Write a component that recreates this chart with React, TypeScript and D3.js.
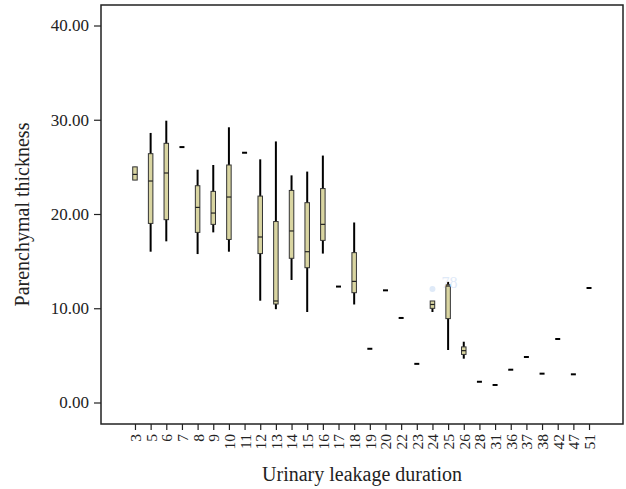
import * as d3 from "d3";
import { useRef, useEffect } from "react";

// urinary leakage duration groups
const categories = ["3", "5", "6", "7", "8", "9", "10", "11", "12", "13", "14", "15", "16", "17", "18", "19", "20", "22", "23", "24", "25", "26", "28", "31", "36", "37", "38", "42", "47", "51"];
const lows = [23.6, 16.0, 17.1, 27.1, 15.75, 18.05, 16.0, 26.5, 10.8, 9.9, 13.0, 9.6, 15.8, 12.3, 10.4, 5.7, 11.9, 8.97, 4.1, 9.6, 5.57, 4.65, 2.2, 1.86, 3.48, 4.83, 3.06, 6.74, 2.99, 12.15];
const q1s = [23.6, 19.0, 19.4, 27.1, 18.05, 18.9, 17.3, 26.5, 15.8, 10.45, 15.3, 14.3, 17.2, 12.3, 11.65, 5.7, 11.9, 8.97, 4.1, 9.99, 8.9, 5.1, 2.2, 1.86, 3.48, 4.83, 3.06, 6.74, 2.99, 12.15];
const medians = [24.2, 23.5, 24.35, 27.1, 20.7, 20.1, 21.8, 26.5, 17.56, 10.77, 18.2, 16.0, 18.9, 12.3, 12.85, 5.7, 11.9, 8.97, 4.1, 10.4, 12.36, 5.5, 2.2, 1.86, 3.48, 4.83, 3.06, 6.74, 2.99, 12.15];
const q3s = [25.0, 26.4, 27.5, 27.1, 23.0, 22.4, 25.2, 26.5, 21.9, 19.2, 22.5, 21.2, 22.7, 12.3, 15.9, 5.7, 11.9, 8.97, 4.1, 10.77, 12.5, 5.9, 2.2, 1.86, 3.48, 4.83, 3.06, 6.74, 2.99, 12.15];
const highs = [25.0, 28.6, 29.9, 27.1, 24.7, 25.2, 29.2, 26.5, 25.8, 27.7, 24.1, 24.5, 26.2, 12.3, 19.1, 5.7, 11.9, 8.97, 4.1, 10.77, 12.8, 6.45, 2.2, 1.86, 3.48, 4.83, 3.06, 6.74, 2.99, 12.15];

// outlier case
const outlierCategory = "24";
const outlierValue = 12.05;
const outlierLabel = "78";

const yTicks = [0, 10, 20, 30, 40];

const App = () => {
  const container = useRef(null);

  useEffect(() => {
    createChart();
  });

  const createChart = () => {
    let node = container.current;
    let width = 626;
    let height = 489;
    let font = "'Liberation Serif', 'DejaVu Serif', serif";
    let boxFill = "#d9d5a1";

    let frame = { l: 101, r: 623, t: 5, b: 424 };

    let svg = d3
      .select(node)
      .selectAll("svg")
      .data([0])
      .join("svg")
      .attr("width", width)
      .attr("height", height)
      .style("position", "absolute")
      .style("left", 0)
      .style("top", 0)
      .style("background", "#fff");

    svg.selectAll("*").remove();

    let xScale = d3
      .scalePoint()
      .domain(categories)
      .range([frame.l, frame.r])
      .padding(2.17);
    let yScale = d3.scaleLinear().domain([0, 40]).range([402.5, 25.5]);

    let data = categories.map((c, i) => ({
      cat: c,
      low: lows[i],
      q1: q1s[i],
      med: medians[i],
      q3: q3s[i],
      high: highs[i],
    }));

    // frame
    svg
      .append("rect")
      .attr("x", frame.l)
      .attr("y", frame.t)
      .attr("width", frame.r - frame.l)
      .attr("height", frame.b - frame.t)
      .attr("fill", "none")
      .attr("stroke", "#222")
      .attr("stroke-width", 1.5);

    // y axis
    let yaxisg = svg
      .append("g")
      .attr("transform", `translate(${frame.l},0)`)
      .attr("font-family", font);
    yaxisg.call(
      d3
        .axisLeft(yScale)
        .tickValues(yTicks)
        .tickFormat(d3.format(".2f"))
        .tickSize(7)
        .tickPadding(5)
    );
    yaxisg.attr("font-family", font).attr("font-size", 17);
    yaxisg.select(".domain").remove();
    yaxisg
      .selectAll(".tick line")
      .attr("stroke", "#222")
      .attr("stroke-width", 1.2);
    yaxisg.selectAll(".tick text").attr("fill", "#222");

    // x axis
    let xaxisg = svg
      .append("g")
      .attr("transform", `translate(0,${frame.b})`);
    xaxisg.call(d3.axisBottom(xScale).tickSize(6).tickPadding(4));
    xaxisg.attr("font-family", font).attr("font-size", 15.5);
    xaxisg.select(".domain").remove();
    xaxisg
      .selectAll(".tick line")
      .attr("stroke", "#222")
      .attr("stroke-width", 1.2);
    xaxisg
      .selectAll(".tick text")
      .attr("fill", "#222")
      .attr("text-anchor", "end")
      .attr("dy", "0.35em")
      .attr("transform", "translate(0,10) rotate(-90)")
      .attr("y", 0)
      .attr("x", 0);

    let plotg = svg.append("g");

    let boxes = data.filter((d) => d.high !== d.low || d.q1 !== d.q3);
    let singles = data.filter((d) => d.high === d.low && d.q1 === d.q3);

    // whiskers
    plotg
      .selectAll(".whisker")
      .data(boxes)
      .join("line")
      .attr("class", "whisker")
      .attr("x1", (d) => xScale(d.cat))
      .attr("x2", (d) => xScale(d.cat))
      .attr("y1", (d) => yScale(d.high))
      .attr("y2", (d) => yScale(d.low))
      .attr("stroke", "#000")
      .attr("stroke-width", 2);

    let bw = 4.5;
    plotg
      .selectAll(".box")
      .data(boxes)
      .join("rect")
      .attr("class", "box")
      .attr("x", (d) => xScale(d.cat) - bw / 2)
      .attr("y", (d) => yScale(d.q3))
      .attr("width", bw)
      .attr("height", (d) => yScale(d.q1) - yScale(d.q3))
      .attr("fill", boxFill)
      .attr("stroke", "#333")
      .attr("stroke-width", 1);

    plotg
      .selectAll(".median")
      .data(boxes)
      .join("line")
      .attr("class", "median")
      .attr("x1", (d) => xScale(d.cat) - bw / 2)
      .attr("x2", (d) => xScale(d.cat) + bw / 2)
      .attr("y1", (d) => yScale(d.med))
      .attr("y2", (d) => yScale(d.med))
      .attr("stroke", "#222")
      .attr("stroke-width", 1.2);

    // single observations drawn as a short dash
    plotg
      .selectAll(".single")
      .data(singles)
      .join("line")
      .attr("class", "single")
      .attr("x1", (d) => xScale(d.cat) - 2.5)
      .attr("x2", (d) => xScale(d.cat) + 2.5)
      .attr("y1", (d) => yScale(d.med))
      .attr("y2", (d) => yScale(d.med))
      .attr("stroke", "#000")
      .attr("stroke-width", 2);

    // faint outlier marker
    plotg
      .append("circle")
      .attr("cx", xScale(outlierCategory))
      .attr("cy", yScale(outlierValue))
      .attr("r", 3)
      .attr("fill", "#dfeaf8");
    plotg
      .append("text")
      .attr("x", xScale(outlierCategory) + 9)
      .attr("y", yScale(outlierValue) - 1)
      .attr("font-family", font)
      .attr("font-size", 16)
      .attr("fill", "#dfeaf8")
      .text(outlierLabel);

    // titles
    svg
      .append("text")
      .attr("x", (frame.l + frame.r) / 2)
      .attr("y", 481)
      .attr("text-anchor", "middle")
      .attr("font-family", font)
      .attr("font-size", 20)
      .attr("fill", "#222")
      .text("Urinary leakage duration");

    svg
      .append("text")
      .attr("transform", `translate(29,${(frame.t + frame.b) / 2})rotate(-90)`)
      .attr("text-anchor", "middle")
      .attr("font-family", font)
      .attr("font-size", 20)
      .attr("fill", "#222")
      .text("Parenchymal thickness");
  };

  return <div ref={container}></div>;
};

export default App;
